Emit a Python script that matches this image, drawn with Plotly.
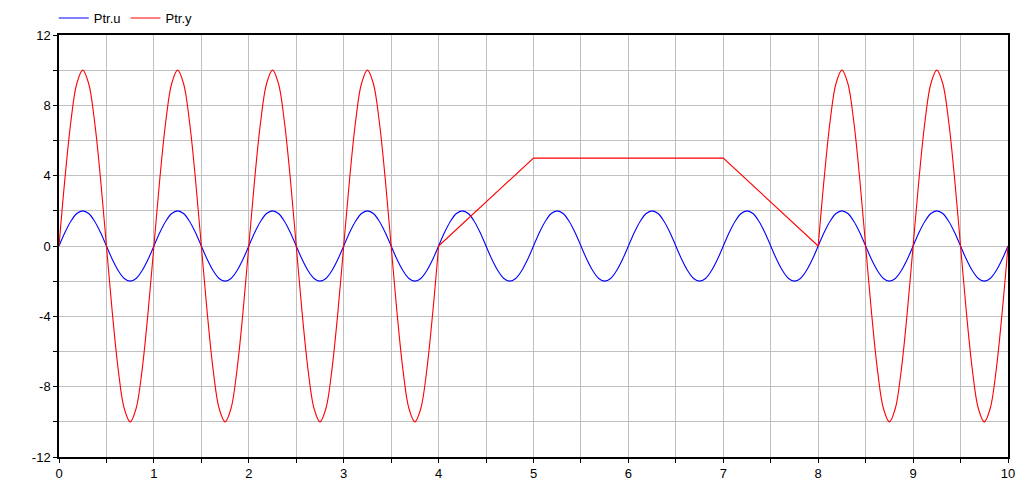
import plotly.graph_objects as go

# Sample times (1/16 period steps) and values
t_u = [0, 0.0625, 0.125, 0.1875, 0.25, 0.3125, 0.375, 0.4375, 0.5, 0.5625, 0.625, 0.6875, 0.75, 0.8125, 0.875, 0.9375,
       1, 1.0625, 1.125, 1.1875, 1.25, 1.3125, 1.375, 1.4375, 1.5, 1.5625, 1.625, 1.6875, 1.75, 1.8125, 1.875, 1.9375,
       2, 2.0625, 2.125, 2.1875, 2.25, 2.3125, 2.375, 2.4375, 2.5, 2.5625, 2.625, 2.6875, 2.75, 2.8125, 2.875, 2.9375,
       3, 3.0625, 3.125, 3.1875, 3.25, 3.3125, 3.375, 3.4375, 3.5, 3.5625, 3.625, 3.6875, 3.75, 3.8125, 3.875, 3.9375,
       4, 4.0625, 4.125, 4.1875, 4.25, 4.3125, 4.375, 4.4375, 4.5, 4.5625, 4.625, 4.6875, 4.75, 4.8125, 4.875, 4.9375,
       5, 5.0625, 5.125, 5.1875, 5.25, 5.3125, 5.375, 5.4375, 5.5, 5.5625, 5.625, 5.6875, 5.75, 5.8125, 5.875, 5.9375,
       6, 6.0625, 6.125, 6.1875, 6.25, 6.3125, 6.375, 6.4375, 6.5, 6.5625, 6.625, 6.6875, 6.75, 6.8125, 6.875, 6.9375,
       7, 7.0625, 7.125, 7.1875, 7.25, 7.3125, 7.375, 7.4375, 7.5, 7.5625, 7.625, 7.6875, 7.75, 7.8125, 7.875, 7.9375,
       8, 8.0625, 8.125, 8.1875, 8.25, 8.3125, 8.375, 8.4375, 8.5, 8.5625, 8.625, 8.6875, 8.75, 8.8125, 8.875, 8.9375,
       9, 9.0625, 9.125, 9.1875, 9.25, 9.3125, 9.375, 9.4375, 9.5, 9.5625, 9.625, 9.6875, 9.75, 9.8125, 9.875, 9.9375,
       10]
u_vals = [0, 0.77, 1.41, 1.85, 2, 1.85, 1.41, 0.77, 0, -0.77, -1.41, -1.85, -2, -1.85, -1.41, -0.77,
          0, 0.77, 1.41, 1.85, 2, 1.85, 1.41, 0.77, 0, -0.77, -1.41, -1.85, -2, -1.85, -1.41, -0.77,
          0, 0.77, 1.41, 1.85, 2, 1.85, 1.41, 0.77, 0, -0.77, -1.41, -1.85, -2, -1.85, -1.41, -0.77,
          0, 0.77, 1.41, 1.85, 2, 1.85, 1.41, 0.77, 0, -0.77, -1.41, -1.85, -2, -1.85, -1.41, -0.77,
          0, 0.77, 1.41, 1.85, 2, 1.85, 1.41, 0.77, 0, -0.77, -1.41, -1.85, -2, -1.85, -1.41, -0.77,
          0, 0.77, 1.41, 1.85, 2, 1.85, 1.41, 0.77, 0, -0.77, -1.41, -1.85, -2, -1.85, -1.41, -0.77,
          0, 0.77, 1.41, 1.85, 2, 1.85, 1.41, 0.77, 0, -0.77, -1.41, -1.85, -2, -1.85, -1.41, -0.77,
          0, 0.77, 1.41, 1.85, 2, 1.85, 1.41, 0.77, 0, -0.77, -1.41, -1.85, -2, -1.85, -1.41, -0.77,
          0, 0.77, 1.41, 1.85, 2, 1.85, 1.41, 0.77, 0, -0.77, -1.41, -1.85, -2, -1.85, -1.41, -0.77,
          0, 0.77, 1.41, 1.85, 2, 1.85, 1.41, 0.77, 0, -0.77, -1.41, -1.85, -2, -1.85, -1.41, -0.77,
          0]

t_y1 = [0, 0.0625, 0.125, 0.1875, 0.25, 0.3125, 0.375, 0.4375, 0.5, 0.5625, 0.625, 0.6875, 0.75, 0.8125, 0.875, 0.9375,
        1, 1.0625, 1.125, 1.1875, 1.25, 1.3125, 1.375, 1.4375, 1.5, 1.5625, 1.625, 1.6875, 1.75, 1.8125, 1.875, 1.9375,
        2, 2.0625, 2.125, 2.1875, 2.25, 2.3125, 2.375, 2.4375, 2.5, 2.5625, 2.625, 2.6875, 2.75, 2.8125, 2.875, 2.9375,
        3, 3.0625, 3.125, 3.1875, 3.25, 3.3125, 3.375, 3.4375, 3.5, 3.5625, 3.625, 3.6875, 3.75, 3.8125, 3.875, 3.9375,
        4]
y_vals1 = [0, 3.83, 7.07, 9.24, 10, 9.24, 7.07, 3.83, 0, -3.83, -7.07, -9.24, -10, -9.24, -7.07, -3.83,
           0, 3.83, 7.07, 9.24, 10, 9.24, 7.07, 3.83, 0, -3.83, -7.07, -9.24, -10, -9.24, -7.07, -3.83,
           0, 3.83, 7.07, 9.24, 10, 9.24, 7.07, 3.83, 0, -3.83, -7.07, -9.24, -10, -9.24, -7.07, -3.83,
           0, 3.83, 7.07, 9.24, 10, 9.24, 7.07, 3.83, 0, -3.83, -7.07, -9.24, -10, -9.24, -7.07, -3.83,
           0]
t_y2 = [4, 5, 7, 8]
y_vals2 = [0, 5, 5, 0]
t_y3 = [8, 8.0625, 8.125, 8.1875, 8.25, 8.3125, 8.375, 8.4375, 8.5, 8.5625, 8.625, 8.6875, 8.75, 8.8125, 8.875, 8.9375,
        9, 9.0625, 9.125, 9.1875, 9.25, 9.3125, 9.375, 9.4375, 9.5, 9.5625, 9.625, 9.6875, 9.75, 9.8125, 9.875, 9.9375,
        10]
y_vals3 = [0, 3.83, 7.07, 9.24, 10, 9.24, 7.07, 3.83, 0, -3.83, -7.07, -9.24, -10, -9.24, -7.07, -3.83,
           0, 3.83, 7.07, 9.24, 10, 9.24, 7.07, 3.83, 0, -3.83, -7.07, -9.24, -10, -9.24, -7.07, -3.83,
           0]

x_ticks = [0, 1, 2, 3, 4, 5, 6, 7, 8, 9, 10]
x_labels = ["0", "1", "2", "3", "4", "5", "6", "7", "8", "9", "10"]
y_ticks = [-12, -8, -4, 0, 4, 8, 12]
y_labels = ["-12", "-8", "-4", "0", "4", "8", "12"]

BLUE = "#0000ff"
RED = "#ff0000"
FONT = "Liberation Sans, Arial"

fig = go.Figure()
fig.add_trace(go.Scatter(x=t_u, y=u_vals, name="Ptr.u", mode="lines",
                         line=dict(color=BLUE, width=1.1, shape="spline", smoothing=1.0)))
fig.add_trace(go.Scatter(x=t_y1, y=y_vals1, name="Ptr.y", mode="lines", legendgroup="y",
                         line=dict(color=RED, width=1.1, shape="spline", smoothing=1.0)))
fig.add_trace(go.Scatter(x=t_y2, y=y_vals2, name="Ptr.y", mode="lines", legendgroup="y",
                         showlegend=False, line=dict(color=RED, width=1.1)))
fig.add_trace(go.Scatter(x=t_y3, y=y_vals3, name="Ptr.y", mode="lines", legendgroup="y",
                         showlegend=False,
                         line=dict(color=RED, width=1.1, shape="spline", smoothing=1.0)))

axis_common = dict(showline=True, linecolor="black", linewidth=1.5, mirror=True,
                   ticks="outside", ticklen=4, tickcolor="black", automargin=False,
                   showgrid=True, gridcolor="#c0c0c0", gridwidth=1,
                   zeroline=False, tickfont=dict(family=FONT, size=13, color="black"))

fig.update_xaxes(range=[0, 10], tickvals=x_ticks, ticktext=x_labels,
                 minor=dict(dtick=0.5, tick0=0, showgrid=True, gridcolor="#c0c0c0",
                            ticks="outside", ticklen=4, tickcolor="black"),
                 **axis_common)
fig.update_yaxes(range=[-12, 12], tickvals=y_ticks, ticktext=y_labels,
                 minor=dict(dtick=2, tick0=0, showgrid=True, gridcolor="#c0c0c0",
                            ticks="outside", ticklen=4, tickcolor="black"),
                 **axis_common)

fig.update_layout(
    width=1034, height=481,
    margin=dict(l=59, r=26, t=35, b=24, autoexpand=False),
    paper_bgcolor="white", plot_bgcolor="white",
    font=dict(family=FONT, size=12, color="black"),
    showlegend=True,
    legend=dict(orientation="h", x=-0.0055, xanchor="left",
                yref="container", y=1 - 18 / 481, yanchor="middle",
                bgcolor="rgba(0,0,0,0)", itemwidth=30,
                font=dict(family=FONT, size=13, color="black")),
)

fig.write_html("out.html", config={"displayModeBar": False},
               post_script="document.body.style.margin='0';document.body.style.overflow='hidden';")
